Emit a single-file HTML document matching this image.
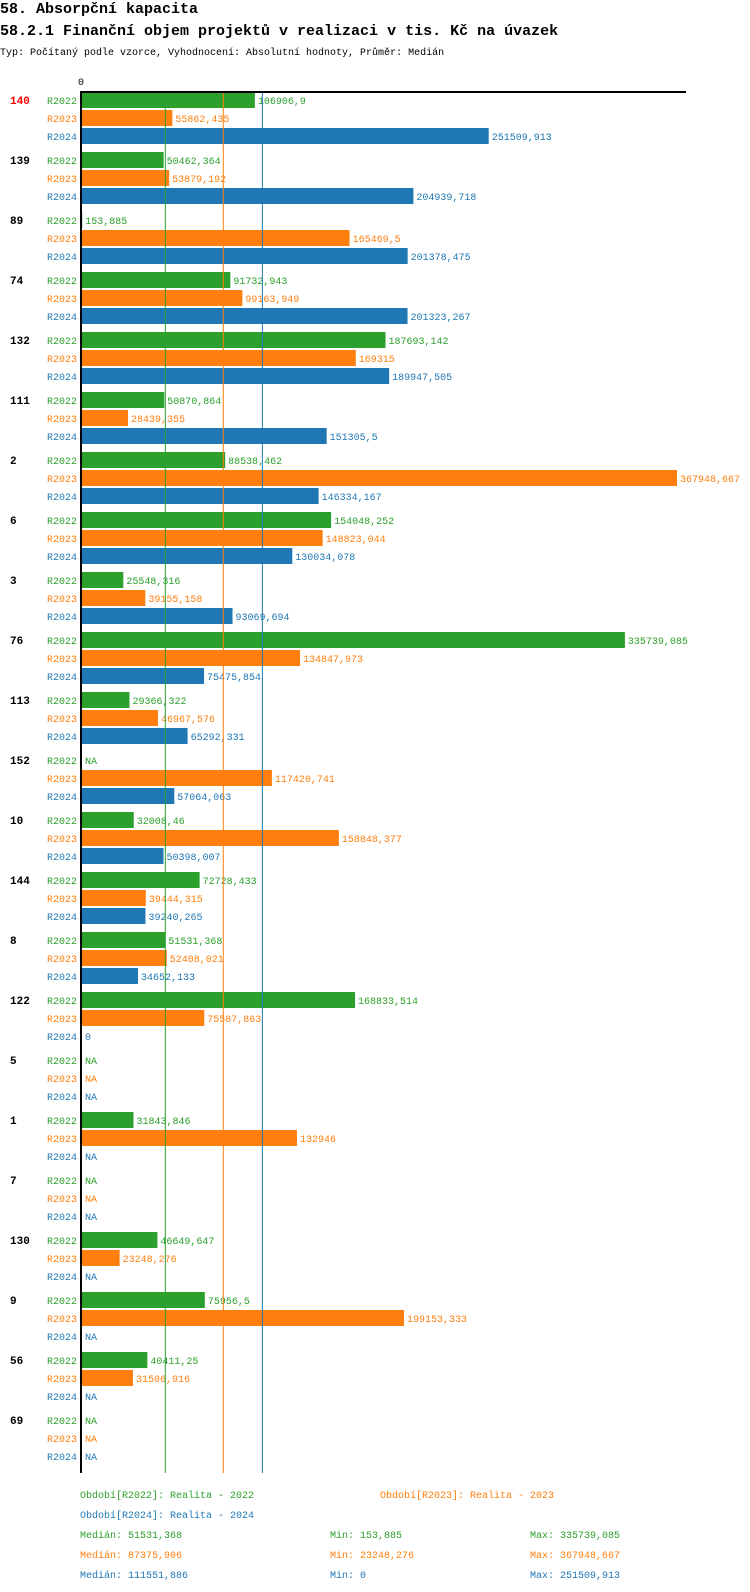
<!DOCTYPE html>
<html><head><meta charset="utf-8"><style>
body{margin:0;background:#fff;width:750px;height:1592px;overflow:hidden}
svg{display:block;font-family:"Liberation Mono",monospace}
</style></head><body>
<svg id="c" width="750" height="1592" xmlns="http://www.w3.org/2000/svg">
<text x="0" y="13" font-size="15" font-weight="bold">58. Absorpční kapacita</text>
<text x="0" y="35" font-size="15" font-weight="bold">58.2.1 Finanční objem projektů v realizaci v tis. Kč na úvazek</text>
<text x="0" y="55" font-size="10">Typ: Počítaný podle vzorce, Vyhodnocení: Absolutní hodnoty, Průměr: Medián</text>
<text x="78" y="85" font-size="10">0</text>
</svg>
<script>
const groups=["140","139","89","74","132","111","2","6","3","76","113","152","10","144","8","122","5","1","7","130","9","56","69"];
const r2022=[106906.9,50462.364,153.885,91732.943,187693.142,50870.864,88538.462,154048.252,25548.316,335739.085,29366.322,null,32008.46,72728.433,51531.368,168833.514,null,31843.846,null,46649.647,75956.5,40411.25,null];
const r2023=[55862.435,53879.192,165469.5,99163.949,169315,28439.355,367948.667,148823.044,39155.158,134847.973,46967.576,117420.741,158848.377,39444.315,52408.021,75587.863,null,132946,null,23248.276,199153.333,31506.916,null];
const r2024=[251509.913,204939.718,201378.475,201323.267,189947.505,151305.5,146334.167,130034.078,93069.694,75475.854,65292.331,57064.063,50398.007,39240.265,34652.133,0,null,null,null,null,null,null,null];
const seriesNames=["R2022","R2023","R2024"];
const medians=[51531.368,87375.906,111551.886];
const mins=["153,885","23248,276","0"];
const maxs=["335739,085","367948,667","251509,913"];
const colors=["#2ca02c","#ff7f0e","#1f77b4"];
const svg=document.getElementById('c');const NS="http://www.w3.org/2000/svg";
const x0=82,k=595/367948.667,top0=92,gp=60,rp=18,bh=16;
const X=v=>x0+v*k;
function el(t,a,txt){const e=document.createElementNS(NS,t);for(const n in a)e.setAttribute(n,a[n]);if(txt!==undefined)e.textContent=txt;svg.appendChild(e);return e;}
function fmt(v){return String(Math.round(v*1000)/1000).replace('.',',');}
const data=[r2022,r2023,r2024];
groups.forEach((g,i)=>{
  const gy=top0+i*gp;
  const t=el('text',{x:10,y:gy+12,'font-size':11,'font-weight':'bold',fill:i===0?'#ff0000':'#000'},g);
  
  
  data.forEach((s,j)=>{
    const y=gy+j*rp,v=s[i],c=colors[j];
    const l=el('text',{x:77,y:y+12,'font-size':10,fill:c,'text-anchor':'end'},seriesNames[j]);
    
    
    if(v!==null&&v>0){const b=el('rect',{x:x0,y:y,width:X(v)-x0,height:bh,fill:c});
      
      }
    const tx=v===null?'NA':fmt(v);
    const vl=el('text',{x:(v===null?x0:X(v))+3,y:y+12,'font-size':10,fill:c},tx);
    
    
  });
});
const bottom=1473;
medians.forEach((m,j)=>{const l=el('line',{x1:X(m),x2:X(m),y1:top0,y2:bottom,stroke:colors[j],'stroke-width':1});
  
  });
const ax=el('line',{x1:81,x2:81,y1:91,y2:bottom,stroke:'#000','stroke-width':2});


const hx=el('line',{x1:80,x2:686,y1:92,y2:92,stroke:'#000','stroke-width':2});


const leg=[[80,1498,0,"Období[R2022]: Realita - 2022"],[380,1498,1,"Období[R2023]: Realita - 2023"],[80,1518,2,"Období[R2024]: Realita - 2024"]];
leg.forEach(a=>{const t=el('text',{x:a[0],y:a[1],'font-size':10,fill:colors[a[2]]},a[3]);
  
  });
medians.forEach((m,j)=>{const y=1538+j*20;
  const a=el('text',{x:80,y:y,'font-size':10,fill:colors[j]},'Medián: '+fmt(m));
  
  
  const b=el('text',{x:330,y:y,'font-size':10,fill:colors[j]},'Min: '+mins[j]);
  
  
  const c=el('text',{x:530,y:y,'font-size':10,fill:colors[j]},'Max: '+maxs[j]);
  
  });
</script>
</body></html>
